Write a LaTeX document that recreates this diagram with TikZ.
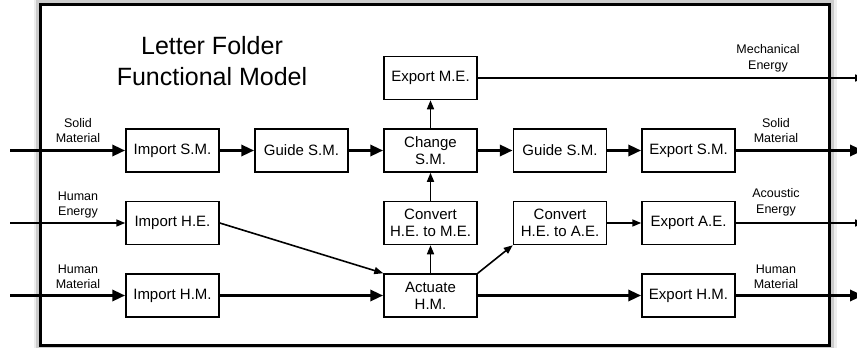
\documentclass[tikz,border=0pt]{standalone}
\usepackage{fontspec}
\setmainfont{Liberation Sans}
\usetikzlibrary{arrows.meta}
\begin{document}
\begin{tikzpicture}[x=1pt,y=-1pt,
  fbox/.style={draw,line width=1.5pt,minimum width=93pt,minimum height=43pt,inner sep=0pt,align=center,font=\fontsize{15}{17}\selectfont},
  lbl/.style={align=center,font=\fontsize{12.5}{15.5}\selectfont,inner sep=0pt},
  mflow/.style={line width=3.5pt,-{Triangle[length=13pt,width=11pt]}},
  eflow/.style={line width=1.6pt,-{Triangle[length=9pt,width=7pt]}},
  frame/.style={line width=3pt}
]
\path[use as bounding box,clip] (0,0) rectangle (857,348);
% frame with soft shadow
\draw[line width=3pt,black!7] (35.5,-0.5) rectangle (835,350.5);
\draw[line width=3pt,black!20] (37.5,1.5) rectangle (832.5,348.5);
\draw[frame] (40.5,4.5) rectangle (829.5,345.5);

% title
\node[align=center,font=\fontsize{25}{31}\selectfont,inner sep=0pt] (title) at (212,61) {Letter Folder\\Functional Model};

% boxes
\node[fbox] (ism)  at (172.5,150.5) {Import S.M.};
\node[fbox] (gsm1) at (301.5,150.5) {Guide S.M.};
\node[fbox] (csm)  at (430.5,150.5) {Change\\S.M.};
\node[fbox] (eme)  at (430.5,78)    {Export M.E.};
\node[fbox] (gsm2) at (560,150.5)   {Guide S.M.};
\node[fbox] (esm)  at (688.5,150.5) {Export S.M.};
\node[fbox] (ihe)  at (172.5,223)   {Import H.E.};
\node[fbox] (chm)  at (430.5,223)   {Convert\\H.E. to M.E.};
\node[fbox] (cha)  at (560,223)     {Convert\\H.E. to A.E.};
\node[fbox] (eae)  at (688.5,223)   {Export A.E.};
\node[fbox] (ihm)  at (172.5,295.5) {Import H.M.};
\node[fbox] (act)  at (430.5,295.5) {Actuate\\H.M.};
\node[fbox] (ehm)  at (688.5,295.5) {Export H.M.};

% free ends
\coordinate (inSM) at (10,150.5);
\coordinate (inHE) at (10,223);
\coordinate (inHM) at (10,295.5);
\coordinate (outME) at (864,78);
\coordinate (outSM) at (863,150.5);
\coordinate (outAE) at (864,223);
\coordinate (outHM) at (863,295.5);

% flow labels
\node[lbl] (lSMi) at (78,130.5) {Solid\\Material};
\node[lbl] (lHEi) at (78,205) {Human\\Energy};
\node[lbl] (lHMi) at (78,277) {Human\\Material};
\node[lbl] (lMEo) at (768,58.5) {Mechanical\\Energy};
\node[lbl] (lSMo) at (776,130.5) {Solid\\Material};
\node[lbl] (lAEo) at (776,202.5) {Acoustic\\Energy};
\node[lbl] (lHMo) at (776,277) {Human\\Material};

% material flows
\draw[mflow] (inSM) -- (ism);
\draw[mflow] (ism) -- (gsm1);
\draw[mflow] (gsm1) -- (csm);
\draw[mflow] (csm) -- (gsm2);
\draw[mflow] (gsm2) -- (esm);
\draw[mflow] (esm) -- (outSM);
\draw[mflow] (inHM) -- (ihm);
\draw[mflow] (ihm) -- (act);
\draw[mflow] (act) -- (ehm);
\draw[mflow] (ehm) -- (outHM);

% energy flows
\draw[eflow] (inHE) -- (ihe);
\draw[eflow] (ihe.east) -- (act.north west);
\draw[eflow] (act) -- (chm);
\draw[eflow] (chm) -- (csm);
\draw[eflow] (csm) -- (eme);
\draw[eflow] (eme) -- (outME);
\draw[eflow] (act.north east) -- (cha.south west);
\draw[eflow] (cha) -- (eae);
\draw[eflow] (eae) -- (outAE);
\end{tikzpicture}
\end{document}
